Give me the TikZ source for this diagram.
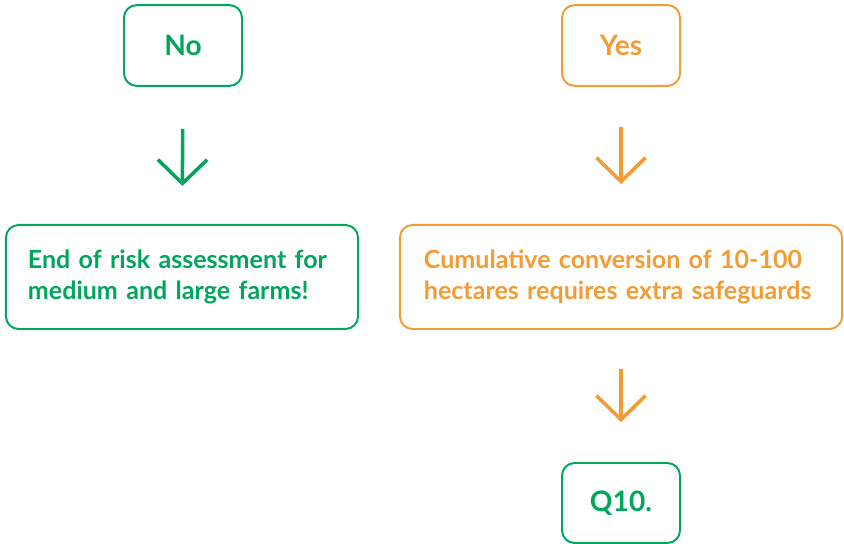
\documentclass[tikz,border=0pt]{standalone}
\usepackage{fontspec}
\setmainfont{Lato}
\usetikzlibrary{positioning,arrows.meta}
\definecolor{nogreen}{RGB}{0,166,90}
\definecolor{yesorange}{RGB}{243,156,51}
\tikzset{
  answer/.style={draw=#1, text=#1, line width=1.4pt, rounded corners=9pt,
    minimum width=2.95cm, minimum height=2.02cm, font=\fontsize{20}{24}\selectfont\bfseries},
  outcome/.style={draw=#1, text=#1, line width=1.4pt, rounded corners=9pt,
    minimum height=2.6cm, inner xsep=0.55cm, align=left,
    font=\fontsize{17.8}{21.5}\selectfont\bfseries},
  downarrow/.style={draw=#1, line width=2.5pt,
    -{Straight Barb[length=17pt,width=35pt,line width=2.5pt]}}
}
\begin{document}
\begin{tikzpicture}[x=0.025cm,y=-0.025cm]
  \useasboundingbox (0,0) rectangle (844,544);

  \node[answer=nogreen] (no) at (183,45.5) {No};
  \node[answer=yesorange] (yes) at (621,45.5) {Yes};

  \node[outcome=nogreen, minimum width=8.8cm, text width=7.7cm] (end) at (182,277)
    {End of risk assessment for\\medium and large farms!};
  \node[outcome=yesorange, minimum width=11.05cm, text width=9.85cm] (cum) at (621,277)
    {Cumulative conversion of 10-100\\hectares requires extra safeguards};

  \node[answer=nogreen, minimum height=2cm] (q10) at (621,503) {Q10.};

  \draw[downarrow=nogreen, shorten <=1.05cm, shorten >=0.95cm] (no) -- (end);
  \draw[downarrow=yesorange, shorten <=1cm, shorten >=1cm] (yes) -- (cum);
  \draw[downarrow=yesorange, shorten <=0.97cm, shorten >=1cm] (cum) -- (q10);
\end{tikzpicture}
\end{document}
